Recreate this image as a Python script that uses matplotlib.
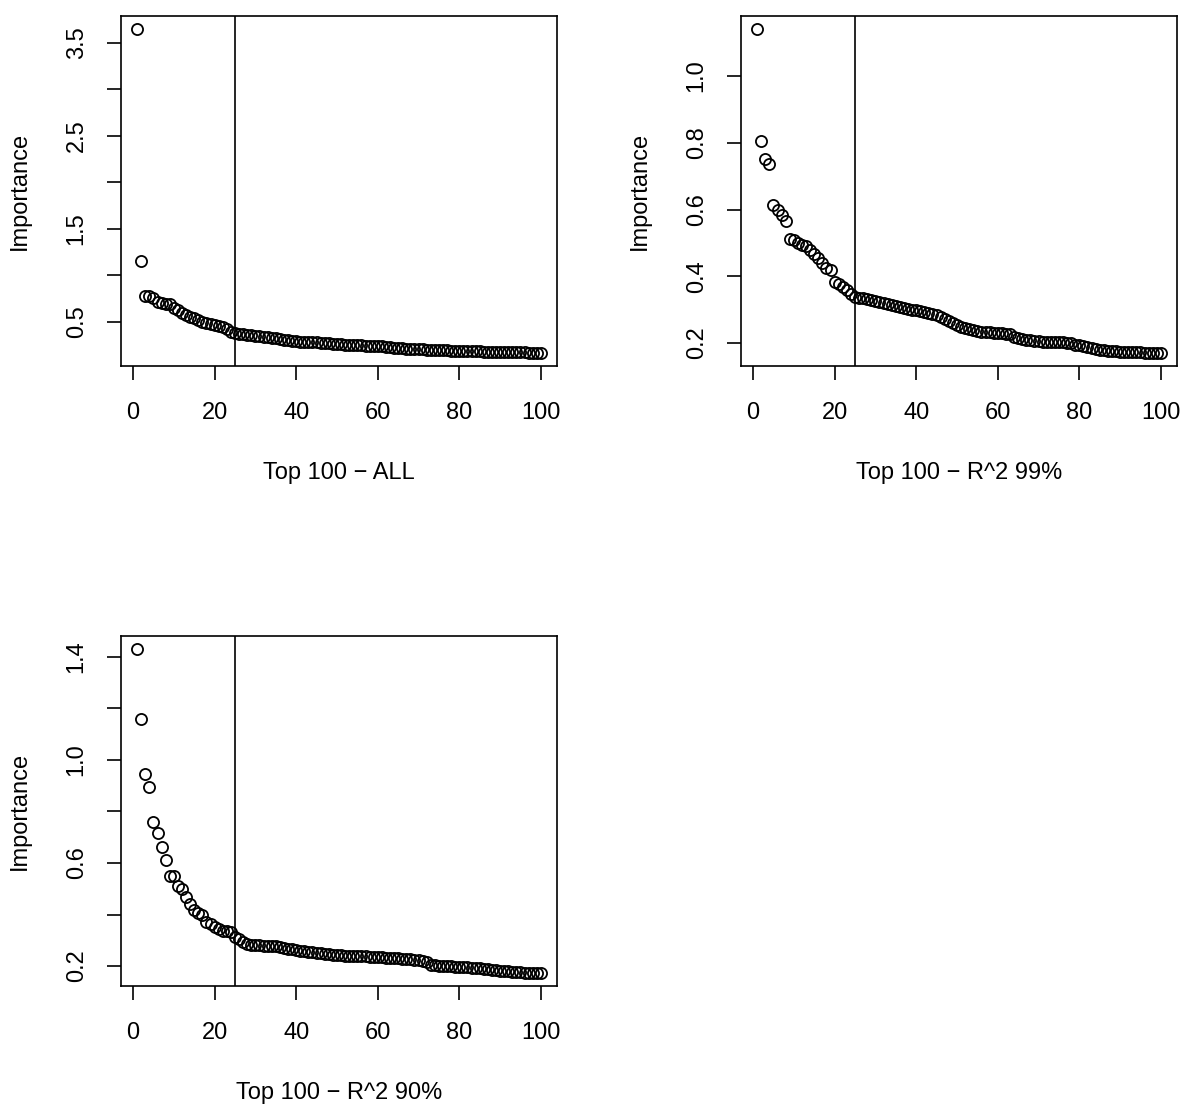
import numpy as np
import matplotlib
matplotlib.use("Agg")
import matplotlib.pyplot as plt

plt.rcParams['font.family'] = ['Liberation Sans', 'DejaVu Sans']

# importance values, ranks 1..100
imp_all = [3.65, 1.156, 0.78, 0.775, 0.76, 0.71, 0.70, 0.695, 0.69, 0.655,
           0.63, 0.60, 0.575, 0.555, 0.54, 0.52, 0.50, 0.49, 0.48, 0.47,
           0.46, 0.45, 0.42, 0.395, 0.38, 0.375, 0.37, 0.365, 0.355, 0.35,
           0.345, 0.34, 0.335, 0.33, 0.325, 0.32, 0.31, 0.305, 0.30, 0.295,
           0.29, 0.288, 0.285, 0.282, 0.28, 0.277, 0.274, 0.27, 0.266, 0.262,
           0.259, 0.256, 0.254, 0.252, 0.25, 0.248, 0.246, 0.244, 0.242, 0.24,
           0.238, 0.236, 0.234, 0.222, 0.218, 0.216, 0.214, 0.212, 0.21, 0.208,
           0.206, 0.204, 0.202, 0.2, 0.198, 0.196, 0.194, 0.193, 0.192, 0.19,
           0.189, 0.188, 0.186, 0.185, 0.184, 0.182, 0.181, 0.18, 0.179, 0.178,
           0.177, 0.176, 0.175, 0.174, 0.173, 0.172, 0.171, 0.169, 0.168, 0.166]

imp_r99 = [1.141, 0.805, 0.75, 0.735, 0.613, 0.598, 0.585, 0.567, 0.513, 0.510,
           0.50, 0.495, 0.49, 0.48, 0.467, 0.455, 0.44, 0.425, 0.418, 0.384,
           0.376, 0.369, 0.36, 0.346, 0.339, 0.336, 0.334, 0.332, 0.33, 0.327,
           0.324, 0.321, 0.318, 0.314, 0.31, 0.307, 0.304, 0.302, 0.30, 0.298,
           0.296, 0.294, 0.29, 0.287, 0.283, 0.279, 0.273, 0.266, 0.259, 0.254,
           0.248, 0.244, 0.241, 0.238, 0.236, 0.234, 0.233, 0.232, 0.231, 0.230,
           0.229, 0.228, 0.227, 0.218, 0.214, 0.212, 0.21, 0.208, 0.206, 0.205,
           0.204, 0.204, 0.203, 0.203, 0.202, 0.202, 0.201, 0.199, 0.195, 0.193,
           0.19, 0.187, 0.184, 0.182, 0.18, 0.178, 0.177, 0.176, 0.175, 0.174,
           0.174, 0.173, 0.173, 0.172, 0.172, 0.171, 0.171, 0.170, 0.170, 0.170]

imp_r90 = [1.43, 1.159, 0.944, 0.895, 0.758, 0.717, 0.661, 0.612, 0.551, 0.548,
           0.51, 0.50, 0.469, 0.44, 0.417, 0.405, 0.40, 0.37, 0.362, 0.353,
           0.342, 0.336, 0.335, 0.333, 0.314, 0.306, 0.292, 0.284, 0.282, 0.281,
           0.28, 0.279, 0.278, 0.277, 0.276, 0.274, 0.272, 0.268, 0.265, 0.262,
           0.26, 0.258, 0.256, 0.254, 0.252, 0.25, 0.248, 0.246, 0.244, 0.243,
           0.242, 0.241, 0.24, 0.239, 0.239, 0.238, 0.238, 0.237, 0.236, 0.235,
           0.234, 0.233, 0.232, 0.231, 0.23, 0.229, 0.228, 0.226, 0.224, 0.222,
           0.22, 0.215, 0.205, 0.203, 0.202, 0.201, 0.2, 0.199, 0.198, 0.197,
           0.196, 0.195, 0.194, 0.193, 0.192, 0.19, 0.188, 0.186, 0.184, 0.182,
           0.18, 0.179, 0.178, 0.177, 0.176, 0.175, 0.174, 0.174, 0.173, 0.173]

titles = ["Top 100 \u2212 ALL", "Top 100 \u2212 R^2 99%", "Top 100 \u2212 R^2 90%"]
yticks = [[0.5, 1.0, 1.5, 2.0, 2.5, 3.0, 3.5],
          [0.2, 0.4, 0.6, 0.8, 1.0],
          [0.2, 0.4, 0.6, 0.8, 1.0, 1.2, 1.4]]
ylabels = [["0.5", "", "1.5", "", "2.5", "", "3.5"],
           ["0.2", "0.4", "0.6", "0.8", "1.0"],
           ["0.2", "", "0.6", "", "1.0", "", "1.4"]]
xticks = [0, 20, 40, 60, 80, 100]
cutoff = 25

W, H = 1200, 1117
fig = plt.figure(figsize=(W / 100, H / 100), dpi=100)

# box positions in pixels (left, top)
boxes = [(121, 16), (741, 16), (121, 636)]
bw, bh = 436, 350
fs = 17

series = [imp_all, imp_r99, imp_r90]
for k in range(3):
    y = np.array(series[k])
    x = np.arange(1, len(y) + 1)
    l, t = boxes[k]
    ax = fig.add_axes([l / W, 1 - (t + bh) / H, bw / W, bh / H])
    ax.plot(x, y, 'o', mfc='none', mec='black', ms=8, mew=1.3)
    ax.axvline(cutoff, color='black', lw=1.2)
    xr = x.max() - x.min()
    ax.set_xlim(x.min() - 0.04 * xr, x.max() + 0.04 * xr)
    yr = y.max() - y.min()
    ax.set_ylim(y.min() - 0.04 * yr, y.max() + 0.04 * yr)
    for s in ax.spines.values():
        s.set_linewidth(1.2)
    ax.set_xticks(xticks)
    ax.set_xticklabels([str(v) for v in xticks])
    ax.set_yticks(yticks[k])
    ax.set_yticklabels(ylabels[k], rotation=90, va='center')
    ax.tick_params(axis='both', length=10, width=1.2, labelsize=fs, direction='out')
    ax.tick_params(axis='x', pad=16)
    ax.tick_params(axis='y', pad=14)
    ax.set_xlabel(titles[k], fontsize=fs, labelpad=27)
    ax.set_ylabel("Importance", fontsize=fs, labelpad=25)

fig.savefig("out.png", dpi=100)
